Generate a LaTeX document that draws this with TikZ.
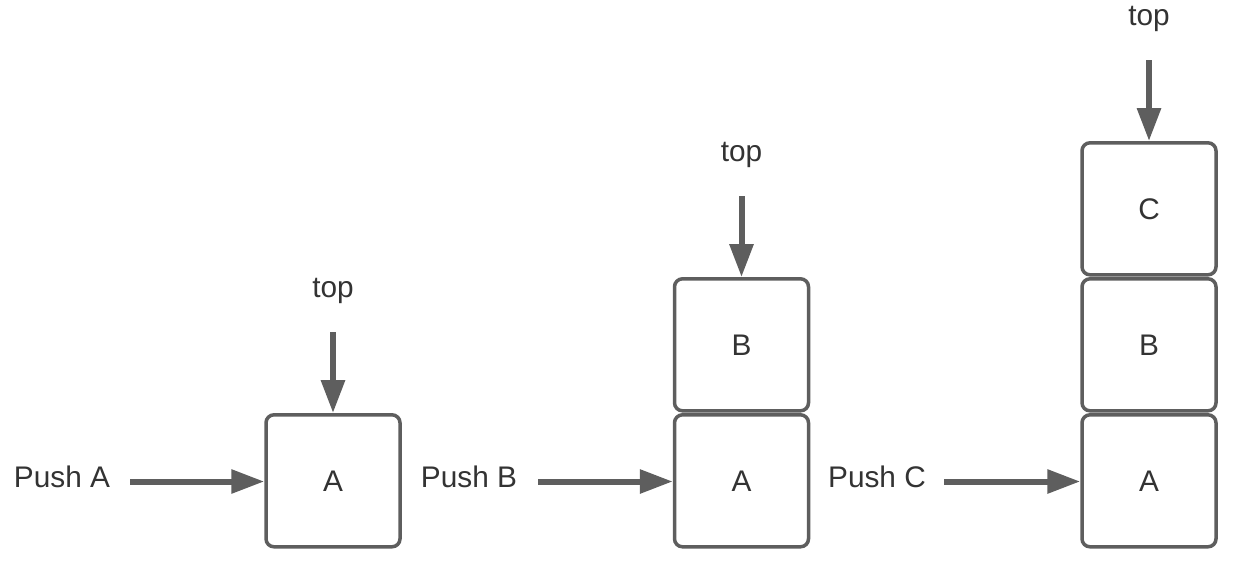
\documentclass[tikz,border=0pt]{standalone}
\usepackage{fontspec}
\setmainfont{Liberation Sans}
\usetikzlibrary{arrows.meta}
\definecolor{linegray}{HTML}{5E5E5E}
\definecolor{textgray}{HTML}{333333}
\begin{document}
\begin{tikzpicture}[x=1pt,y=-1pt,
  cell/.style={draw=linegray, line width=3.5pt, rounded corners=8pt, minimum width=134pt, minimum height=132pt, inner sep=0pt, text=textgray, font=\fontsize{29.8}{31}\selectfont},
  lbl/.style={text=textgray, font=\fontsize{29.8}{31}\selectfont, inner sep=0pt, anchor=base},
  pusharrow/.style={draw=linegray, line width=6pt, -{Triangle[length=33pt,width=23pt]}}
]
\useasboundingbox (0,0) rectangle (1239,574);
% stack 1
\node[cell] (a1) at (333,480.8) {A};
% stack 2
\node[cell] (a2) at (741.5,480.8) {A};
\node[cell] (b2) at (741.5,344.8) {B};
% stack 3
\node[cell] (a3) at (1149,480.8) {A};
\node[cell] (b3) at (1149,344.8) {B};
\node[cell] (c3) at (1149,208.8) {C};
% push labels
\node[lbl] (pa) at (62,487) {Push A};
\node[lbl] (pb) at (469,487) {Push B};
\node[lbl] (pc) at (877,487) {Push C};
% top labels
\node[lbl] (t1) at (333,297) {top};
\node[lbl] (t2) at (741.5,161) {top};
\node[lbl] (t3) at (1149,25) {top};
% arrow starts
\coordinate (ha) at (130,481.5);
\coordinate (hb) at (538,481.5);
\coordinate (hc) at (944,481.5);
\coordinate (s1) at (333,332);
\coordinate (s2) at (741.5,196);
\coordinate (s3) at (1149,60);
% arrows
\draw[pusharrow] (ha) -- (ha -| a1.west);
\draw[pusharrow] (hb) -- (hb -| a2.west);
\draw[pusharrow] (hc) -- (hc -| a3.west);
\draw[pusharrow] (s1) -- (a1.north);
\draw[pusharrow] (s2) -- (b2.north);
\draw[pusharrow] (s3) -- (c3.north);
\end{tikzpicture}
\end{document}
